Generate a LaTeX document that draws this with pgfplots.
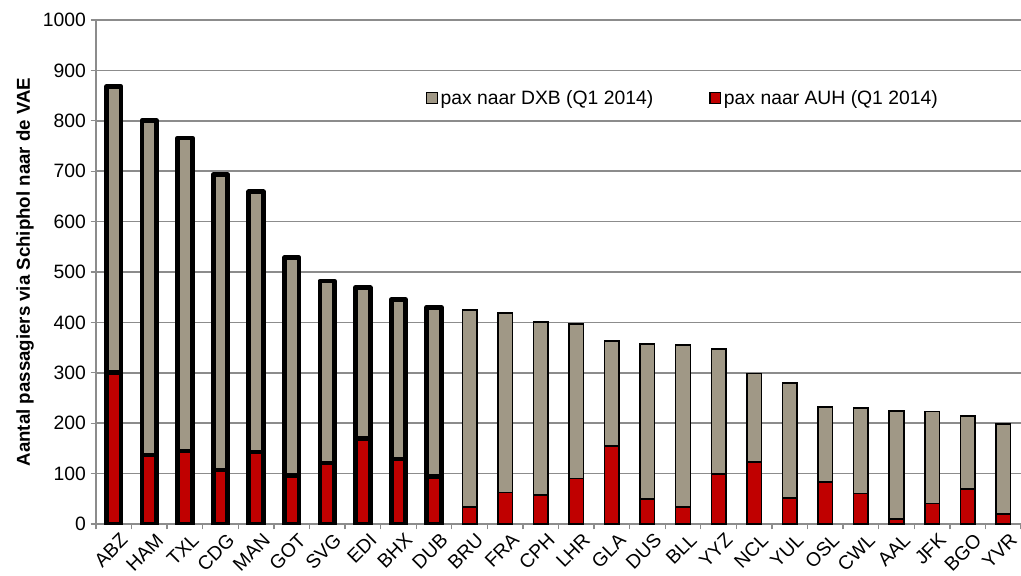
\documentclass[border=0pt]{standalone}
\usepackage{pgfplots}
\pgfplotsset{compat=1.18}
\usepackage{pgfplotstable}
\usepackage{fontspec}
\setmainfont{Liberation Sans}
\definecolor{dxb}{HTML}{A09886}
\definecolor{auh}{HTML}{C00000}
\definecolor{axgray}{HTML}{8C8C8C}

% total = pax naar DXB + AUH (top of bar), auh = pax naar AUH
\pgfplotstableread{
idx cat total auh
0  ABZ 868 300
1  HAM 800 137
2  TXL 766 145
3  CDG 693 107
4  MAN 659 143
5  GOT 528 97
6  SVG 482 121
7  EDI 469 170
8  BHX 445 129
9  DUB 430 95
10 BRU 425 34
11 FRA 419 62
12 CPH 401 58
13 LHR 397 90
14 GLA 363 155
15 DUS 357 50
16 BLL 355 34
17 YYZ 347 99
18 NCL 299 123
19 YUL 280 52
20 OSL 232 83
21 CWL 230 60
22 AAL 224 10
23 JFK 223 41
24 BGO 214 69
25 YVR 198 20
}\pax

\begin{document}
\begin{tikzpicture}
\begin{axis}[
  scale only axis,
  width=693.75pt, height=378pt,
  ybar, bar width=0.41,
  xmin=-0.5, xmax=25.5,
  ymin=0, ymax=1000,
  ytick={0,100,...,1000},
  xtick={0,...,25},
  xticklabels from table={\pax}{cat},
  minor xtick={-0.5,0.5,...,25.5},
  major x tick style={draw=none},
  minor x tick style={axgray, line width=1pt},
  y tick style={axgray, line width=1pt},
  tick align=outside,
  major tick length=4pt, minor tick length=4pt,
  axis x line*=bottom, axis y line*=left,
  axis line style={axgray, line width=1.2pt, -},
  ymajorgrids,
  grid style={axgray, line width=1.2pt},
  /pgf/number format/assume math mode=true,
  /pgf/number format/1000 sep={},
  yticklabel style={font=\fontsize{14.5}{16}\selectfont},
  xticklabel style={font=\fontsize{14.5}{16}\selectfont, rotate=45, anchor=north east, xshift=5pt, yshift=-1pt},
  ylabel={\bfseries Aantal passagiers via Schiphol naar de VAE},
  ylabel style={font=\fontsize{14}{16}\selectfont},
  legend columns=2,
  legend style={draw=none, fill=none, at={(0.352,0.845)}, anchor=west,
    font=\fontsize{14.5}{16}\selectfont,
    /tikz/every even column/.append style={column sep=40pt}},
  legend image code/.code={\draw[#1, line width=1pt] (0pt,-4pt) rectangle (8pt,4pt);},
]
% thin-outlined bars
\addplot[fill=dxb, draw=black, line width=1.1pt, bar shift=0pt,
  restrict x to domain=10:25] table[x=idx, y=total] {\pax};
\addlegendentry{pax naar DXB (Q1 2014)}
\addplot[fill=auh, draw=black, line width=1.1pt, bar shift=0pt,
  restrict x to domain=10:25] table[x=idx, y=auh] {\pax};
\addlegendentry{pax naar AUH (Q1 2014)}
% thick-outlined bars
\addplot[forget plot, fill=dxb, draw=black, line width=3.6pt, line join=round, bar shift=0pt,
  restrict x to domain=0:9] table[x=idx, y=total] {\pax};
\addplot[forget plot, fill=auh, draw=black, line width=3.6pt, line join=round, bar shift=0pt,
  restrict x to domain=0:9] table[x=idx, y=auh] {\pax};
\coordinate (o) at (rel axis cs:0,0);
\end{axis}
\pgfresetboundingbox
\path ([shift={(-72pt,-38.25pt)}]o) rectangle ++(765.75pt,431.25pt);
\end{tikzpicture}
\end{document}
